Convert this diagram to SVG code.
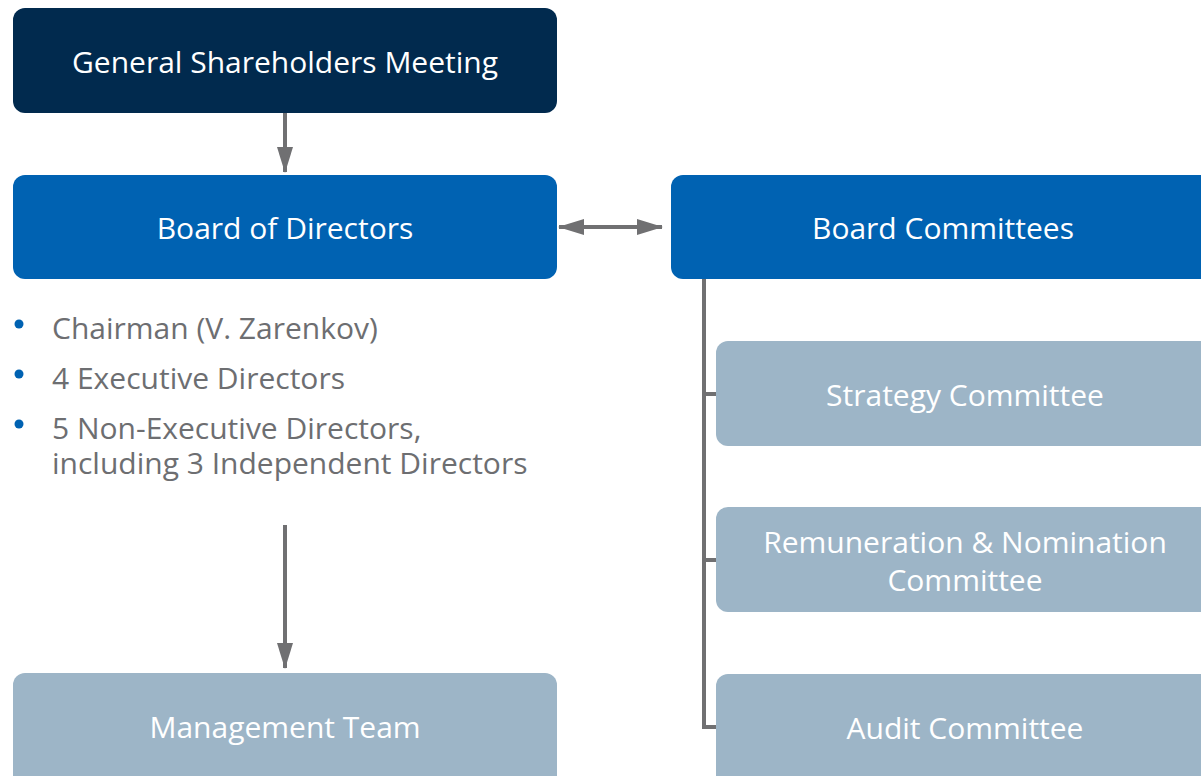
<svg xmlns="http://www.w3.org/2000/svg" width="1201" height="776" viewBox="0 0 1201 776">
<style>
.t{font-family:"Open Sans","DejaVu Sans",sans-serif;font-size:30px;fill:#fff;text-anchor:middle}
.b{font-family:"Open Sans","DejaVu Sans",sans-serif;font-size:30px;fill:#6d6e71}
.c{stroke:#707072;stroke-width:4;fill:none}
</style>
<defs>
<marker id="ah" viewBox="0 0 26 16" refX="25" refY="8" markerWidth="26" markerHeight="16" markerUnits="userSpaceOnUse" orient="auto-start-reverse">
<path d="M0,0 L26,8 L0,16 z" fill="#707072"/>
</marker>
</defs>
<rect width="1201" height="776" fill="#fff"/>
<g id="gsm"><rect x="13" y="8" width="544" height="105" rx="12" fill="#012a4e"/><text class="t" x="285" y="73">General Shareholders Meeting</text></g>
<g id="bod"><rect x="13" y="175" width="544" height="104" rx="12" fill="#0062b2"/><text class="t" x="285" y="239">Board of Directors</text></g>
<g id="bc"><rect x="671" y="175" width="560" height="104" rx="12" fill="#0062b2"/><text class="t" x="943" y="239">Board Committees</text></g>
<g id="bullets">
<circle cx="19" cy="324" r="4.5" fill="#0062b2"/>
<circle cx="19" cy="374" r="4.5" fill="#0062b2"/>
<circle cx="19" cy="424" r="4.5" fill="#0062b2"/>
<text class="b" x="52" y="339">Chairman (V. Zarenkov)</text>
<text class="b" x="52" y="389">4 Executive Directors</text>
<text class="b" x="52" y="439">5 Non-Executive Directors,</text>
<text class="b" x="52" y="474">including 3 Independent Directors</text>
</g>
<g id="mt"><rect x="13" y="673" width="544" height="115" rx="12" fill="#9db5c7"/><text class="t" x="285" y="738">Management Team</text></g>
<g id="sc"><rect x="716" y="341" width="510" height="105" rx="12" fill="#9db5c7"/><text class="t" x="965" y="406">Strategy Committee</text></g>
<g id="rnc"><rect x="716" y="507" width="510" height="105" rx="12" fill="#9db5c7"/><text class="t" x="965" y="553">Remuneration &amp; Nomination</text><text class="t" x="965" y="591">Committee</text></g>
<g id="ac"><rect x="716" y="674" width="510" height="115" rx="12" fill="#9db5c7"/><text class="t" x="965" y="739">Audit Committee</text></g>
<g id="connectors">
<line class="c" x1="285" y1="113" x2="285" y2="172" marker-end="url(#ah)"/>
<line class="c" x1="559" y1="227" x2="662" y2="227" marker-start="url(#ah)" marker-end="url(#ah)"/>
<line class="c" x1="285" y1="525" x2="285" y2="668" marker-end="url(#ah)"/>
<path class="c" d="M704,279 V727 H716 M704,394 H716 M704,560 H716"/>
</g>
</svg>
